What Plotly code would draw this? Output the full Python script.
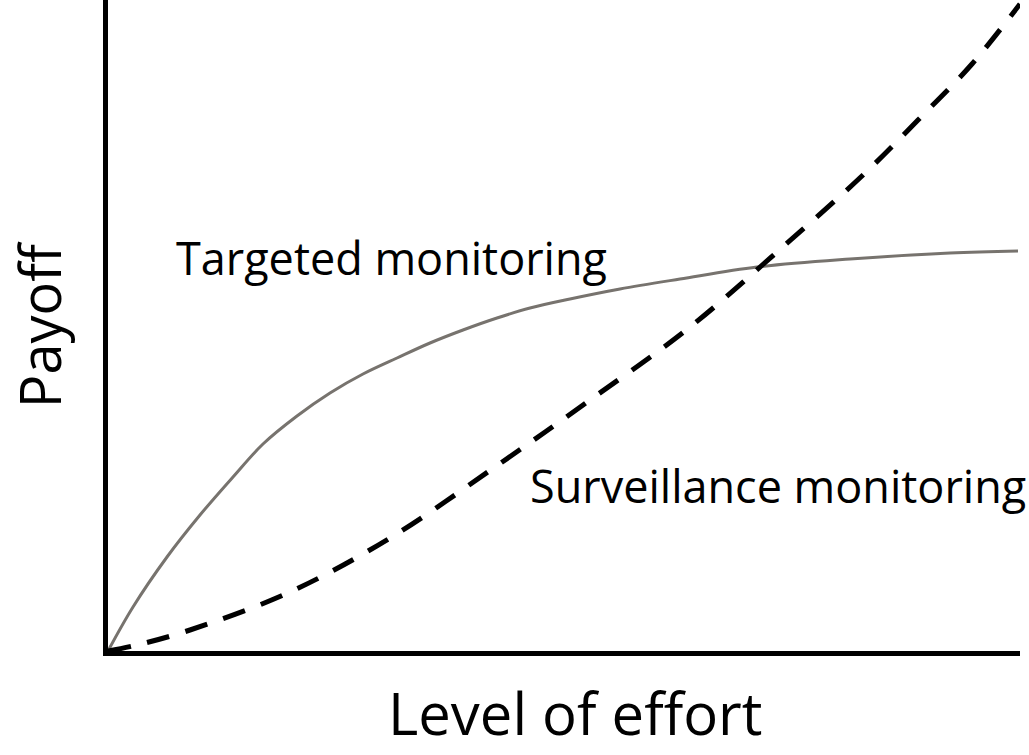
import plotly.graph_objects as go

# Level of effort (x) and payoff (y)
effort_targeted = [0, 25, 59, 92, 125, 155, 189, 222, 255, 289, 322, 355, 389, 422, 462, 512, 572, 649, 742, 842, 910]
payoff_targeted = [0, 44, 94, 136, 174, 207, 235, 258, 277, 293, 308, 321, 333, 343, 352, 362, 372, 384, 392, 398, 400]

effort_surveillance = [0, 29, 82, 182, 282, 387, 482, 582, 669, 755, 810, 864, 912]
payoff_surveillance = [0, 6, 21, 59, 113, 184, 251, 324, 399, 476, 531, 587, 647]

label_targeted = "Targeted monitoring"
label_surveillance = "Surveillance monitoring"
x_title = "Level of effort"
y_title = "Payoff"

FONT = "Open Sans"

fig = go.Figure()
fig.add_trace(go.Scatter(x=effort_targeted, y=payoff_targeted, mode="lines",
                         line=dict(color="#77736e", width=3, shape="spline", smoothing=1.0),
                         showlegend=False, hoverinfo="skip"))
fig.add_trace(go.Scatter(x=effort_surveillance, y=payoff_surveillance, mode="lines",
                         line=dict(color="black", width=5, dash="23px,17px", shape="spline", smoothing=1.0),
                         showlegend=False, hoverinfo="skip"))

fig.update_xaxes(range=[0, 912], showline=True, linecolor="black", linewidth=5,
                 showticklabels=False, ticks="", showgrid=False, zeroline=False, mirror=False)
fig.update_yaxes(range=[0, 651], showline=True, linecolor="black", linewidth=5,
                 showticklabels=False, ticks="", showgrid=False, zeroline=False, mirror=False)

fig.add_annotation(x=66, y=394, xref="x", yref="y", text=label_targeted, showarrow=False,
                   xanchor="left", yanchor="middle", font=dict(family=FONT, size=45, color="black"))
fig.add_annotation(x=420, y=166, xref="x", yref="y", text=label_surveillance, showarrow=False,
                   xanchor="left", yanchor="middle", font=dict(family=FONT, size=45, color="black"))
fig.add_annotation(x=0.512, y=-0.1582, xref="paper", yref="paper", text=x_title, showarrow=False,
                   xanchor="center", yanchor="bottom", font=dict(family=FONT, size=58, color="black"))
fig.add_annotation(x=-0.0756, y=0.502, xref="paper", yref="paper", text=y_title, showarrow=False,
                   textangle=-90, xanchor="center", yanchor="middle", borderpad=0,
                   font=dict(family=FONT, size=56, color="black"))

fig.update_layout(width=1029, height=755, margin=dict(l=108, r=9, t=0, b=104),
                  paper_bgcolor="white", plot_bgcolor="white")

fig.write_html("out.html")
